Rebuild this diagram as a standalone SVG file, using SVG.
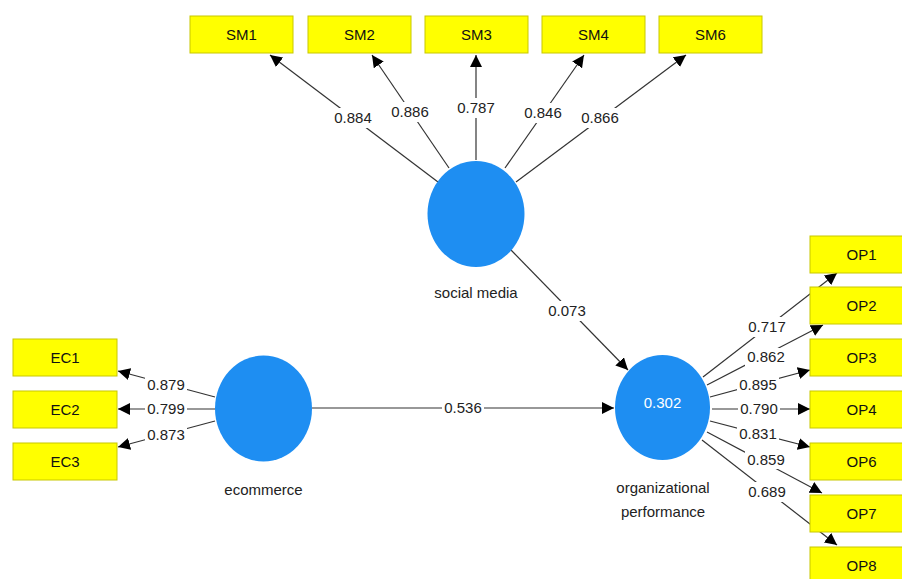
<svg xmlns="http://www.w3.org/2000/svg" width="902" height="579" viewBox="0 0 902 579">
<defs>
<marker id="ah" markerUnits="userSpaceOnUse" markerWidth="14" markerHeight="12" refX="12" refY="6" orient="auto">
<path d="M0,0 L12,6 L0,12 Z" fill="#000"/>
</marker>
<style>
.box{fill:#FFFF00;stroke:#C8C800;stroke-width:1}
.bt{font-family:"Liberation Sans",Arial,sans-serif;font-size:15px;fill:#111;text-anchor:middle}
.lv{fill:#1E8EF2}
.lt{font-family:"Liberation Sans",Arial,sans-serif;font-size:15px;fill:#222;text-anchor:middle}
.ln{stroke:#333;stroke-width:1.2;fill:none;marker-end:url(#ah)}
.lb{fill:#fff}
.lbt{font-family:"Liberation Sans",Arial,sans-serif;font-size:15px;fill:#222;text-anchor:middle}
</style>
</defs>
<rect width="902" height="579" fill="#fff"/>
<g id="connectors">
<line class="ln" x1="438" y1="182" x2="270" y2="55"/>
<line class="ln" x1="449" y1="168" x2="372" y2="55"/>
<line class="ln" x1="476" y1="160" x2="476" y2="55"/>
<line class="ln" x1="505" y1="168" x2="584" y2="55"/>
<line class="ln" x1="516" y1="182" x2="686" y2="55"/>
<line class="ln" x1="511" y1="250" x2="628" y2="370"/>
<line class="ln" x1="312" y1="408" x2="614" y2="408"/>
<line class="ln" x1="215" y1="397" x2="118" y2="371"/>
<line class="ln" x1="215" y1="409" x2="118" y2="409"/>
<line class="ln" x1="215" y1="421" x2="118" y2="447"/>
<line class="ln" x1="703" y1="377" x2="837" y2="273"/>
<line class="ln" x1="707" y1="385" x2="823" y2="325"/>
<line class="ln" x1="710" y1="397" x2="810" y2="370"/>
<line class="ln" x1="712" y1="409" x2="810" y2="409"/>
<line class="ln" x1="710" y1="421" x2="810" y2="447"/>
<line class="ln" x1="707" y1="432" x2="822" y2="493"/>
<line class="ln" x1="702" y1="440" x2="837" y2="545"/>
<g id="labels">
<rect class="lb" x="332" y="108" width="42" height="20"/><text class="lbt" x="353" y="123">0.884</text>
<rect class="lb" x="389" y="102" width="42" height="20"/><text class="lbt" x="410" y="117">0.886</text>
<rect class="lb" x="455" y="98" width="42" height="20"/><text class="lbt" x="476" y="113">0.787</text>
<rect class="lb" x="522" y="103" width="42" height="20"/><text class="lbt" x="543" y="118">0.846</text>
<rect class="lb" x="579" y="108" width="42" height="20"/><text class="lbt" x="600" y="123">0.866</text>
<rect class="lb" x="546" y="301" width="42" height="20"/><text class="lbt" x="567" y="316">0.073</text>
<rect class="lb" x="442" y="398" width="42" height="20"/><text class="lbt" x="463" y="413">0.536</text>
<rect class="lb" x="145" y="376" width="42" height="18"/><text class="lbt" x="166" y="390">0.879</text>
<rect class="lb" x="145" y="400" width="42" height="18"/><text class="lbt" x="166" y="414">0.799</text>
<rect class="lb" x="145" y="426" width="42" height="18"/><text class="lbt" x="166" y="440">0.873</text>
<rect class="lb" x="746" y="317" width="42" height="20"/><text class="lbt" x="767" y="332">0.717</text>
<rect class="lb" x="745" y="348" width="42" height="18"/><text class="lbt" x="766" y="362">0.862</text>
<rect class="lb" x="737" y="376" width="42" height="18"/><text class="lbt" x="758" y="390">0.895</text>
<rect class="lb" x="738" y="400" width="42" height="18"/><text class="lbt" x="759" y="414">0.790</text>
<rect class="lb" x="737" y="425" width="42" height="18"/><text class="lbt" x="758" y="439">0.831</text>
<rect class="lb" x="745" y="451" width="42" height="18"/><text class="lbt" x="766" y="465">0.859</text>
<rect class="lb" x="746" y="482" width="42" height="20"/><text class="lbt" x="767" y="497">0.689</text>
</g>
</g>
<g id="SM1"><rect class="box" x="190" y="16" width="103" height="37"/><text class="bt" x="241.5" y="40">SM1</text></g>
<g id="SM2"><rect class="box" x="308" y="16" width="103" height="37"/><text class="bt" x="359.5" y="40">SM2</text></g>
<g id="SM3"><rect class="box" x="425" y="16" width="103" height="37"/><text class="bt" x="476.5" y="40">SM3</text></g>
<g id="SM4"><rect class="box" x="542" y="16" width="103" height="37"/><text class="bt" x="593.5" y="40">SM4</text></g>
<g id="SM6"><rect class="box" x="659" y="16" width="103" height="37"/><text class="bt" x="710.5" y="40">SM6</text></g>
<g id="EC1"><rect class="box" x="13" y="339" width="104" height="37"/><text class="bt" x="65" y="363">EC1</text></g>
<g id="EC2"><rect class="box" x="13" y="391" width="104" height="37"/><text class="bt" x="65" y="415">EC2</text></g>
<g id="EC3"><rect class="box" x="13" y="443" width="104" height="37"/><text class="bt" x="65" y="467">EC3</text></g>
<g id="OP1"><rect class="box" x="810" y="236" width="103" height="37"/><text class="bt" x="861.5" y="260">OP1</text></g>
<g id="OP2"><rect class="box" x="810" y="287" width="103" height="37"/><text class="bt" x="861.5" y="311">OP2</text></g>
<g id="OP3"><rect class="box" x="810" y="339" width="103" height="37"/><text class="bt" x="861.5" y="363">OP3</text></g>
<g id="OP4"><rect class="box" x="810" y="391" width="103" height="37"/><text class="bt" x="861.5" y="415">OP4</text></g>
<g id="OP6"><rect class="box" x="810" y="443" width="103" height="37"/><text class="bt" x="861.5" y="467">OP6</text></g>
<g id="OP7"><rect class="box" x="810" y="495" width="103" height="37"/><text class="bt" x="861.5" y="519">OP7</text></g>
<g id="OP8"><rect class="box" x="810" y="547" width="103" height="37"/><text class="bt" x="861.5" y="571">OP8</text></g>
<g id="social-media"><ellipse class="lv" cx="476" cy="214" rx="48.5" ry="53"/><text class="lt" x="476" y="298">social media</text></g>
<g id="ecommerce"><ellipse class="lv" cx="263.5" cy="408.5" rx="48.5" ry="53"/><text class="lt" x="263.5" y="495">ecommerce</text></g>
<g id="organizational-performance"><ellipse class="lv" cx="662.5" cy="407.5" rx="47.5" ry="52.5"/><text class="lt" x="662.5" y="408" fill="#fff" style="fill:#fff">0.302</text><text class="lt" x="663" y="493">organizational</text><text class="lt" x="663" y="517">performance</text></g>
</svg>
